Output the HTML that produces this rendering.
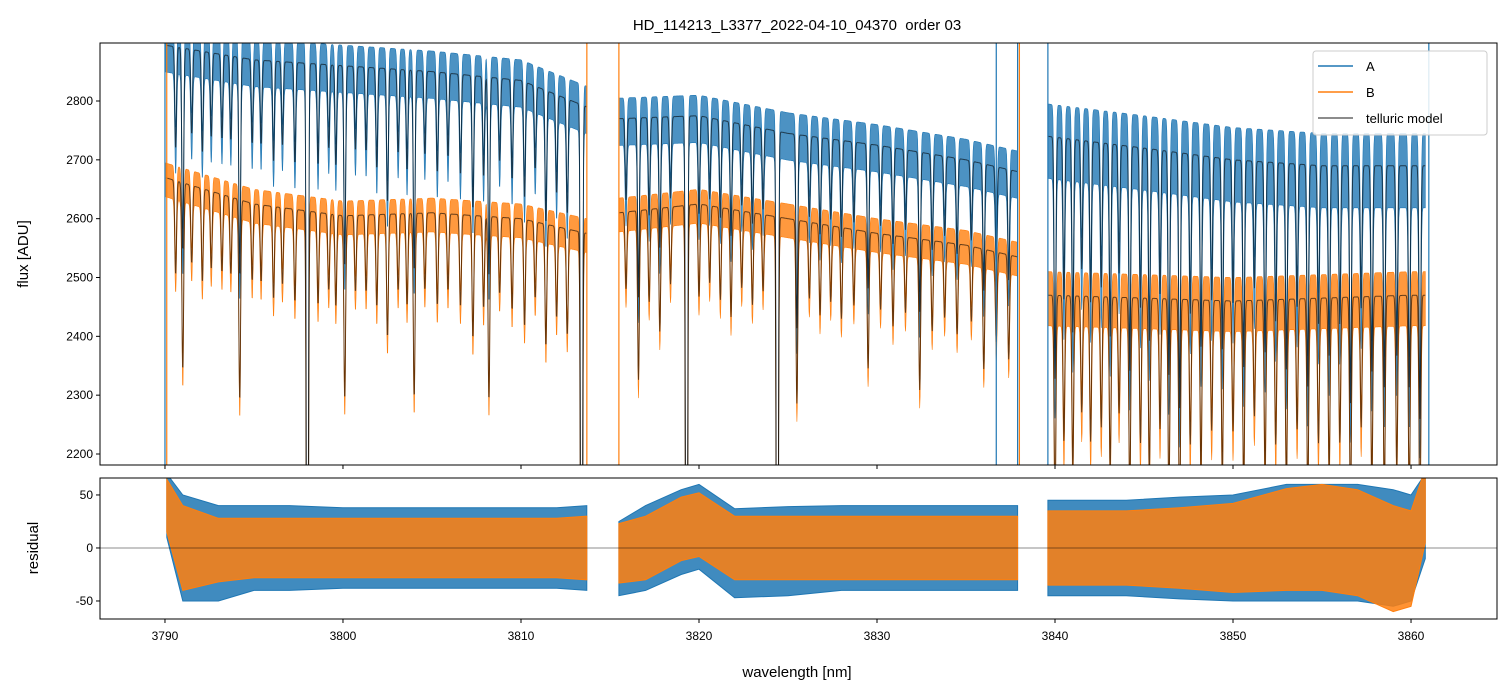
<!DOCTYPE html>
<html><head><meta charset="utf-8">
<style>
html,body{margin:0;padding:0;background:#fff;width:1510px;height:696px;overflow:hidden;}
svg{display:block;font-family:"Liberation Sans","DejaVu Sans",sans-serif;}
</style></head>
<body>
<svg id="chart" width="1510" height="696" viewBox="0 0 1510 696" xmlns="http://www.w3.org/2000/svg">
<defs>
<clipPath id="clipTop"><rect x="100" y="43" width="1397" height="422"/></clipPath>
<clipPath id="clipBot"><rect x="100" y="478" width="1397" height="141"/></clipPath>
</defs>
<rect width="1510" height="696" fill="#fff"/>
<text x="797" y="30" text-anchor="middle" font-size="15" style="white-space:pre">HD_114213_L3377_2022-04-10_04370  order 03</text>
<g id="topMarks" clip-path="url(#clipTop)"></g>
<g id="botMarks" clip-path="url(#clipBot)"></g>
<rect x="100" y="43" width="1397" height="422" fill="none" stroke="#000" stroke-width="1"/>
<rect x="100" y="478" width="1397" height="141" fill="none" stroke="#000" stroke-width="1"/>
<g id="axes"></g>
<text x="28" y="254" transform="rotate(-90 28 254)" text-anchor="middle" font-size="15">flux [ADU]</text>
<text x="38" y="548" transform="rotate(-90 38 548)" text-anchor="middle" font-size="15">residual</text>
<text x="797" y="677" text-anchor="middle" font-size="15">wavelength [nm]</text>
<g>
<rect x="1313" y="51" width="174" height="84" rx="3" fill="#fff" fill-opacity="0.85" stroke="#ccc"/>
<line x1="1318" y1="66" x2="1353" y2="66" stroke="#1f77b4" stroke-width="1.5"/>
<text x="1366" y="71" font-size="13">A</text>
<line x1="1318" y1="92" x2="1353" y2="92" stroke="#ff7f0e" stroke-width="1.5"/>
<text x="1366" y="97" font-size="13">B</text>
<line x1="1318" y1="118" x2="1353" y2="118" stroke="#666" stroke-width="1.5"/>
<text x="1366" y="123" font-size="13">telluric model</text>
</g>
</svg>
<script>
const segments = [[3790.05,3813.7],[3815.5,3837.9],[3839.6,3860.8]];
const contWl = [3790,3795,3800,3805,3810,3813.7,3815.5,3820,3825,3830,3835,3837.9,3839.6,3845,3850,3855,3860,3861];
const contA  = [2895,2870,2860,2850,2835,2790,2770,2775,2745,2725,2700,2680,2740,2720,2700,2690,2690,2690];
const contB  = [2670,2625,2605,2610,2600,2575,2610,2625,2600,2575,2555,2535,2470,2465,2460,2465,2470,2470];
const noiseA = [35,35,35,35,35,35,35,35,35,35,35,35,55,55,55,55,55,55];
const noiseB = [25,25,25,25,25,25,25,25,25,25,25,25,40,40,40,40,40,40];
const lineWl = [3790.6,3791.0,3791.5,3792.1,3792.6,3793.2,3793.7,3794.2,3794.9,3795.4,3796.1,3796.6,3797.3,3798.0,3798.6,3799.2,3799.6,3800.1,3800.7,3801.3,3801.9,3802.5,3803.1,3803.6,3804.0,3804.6,3805.3,3805.9,3806.6,3807.3,3807.9,3808.2,3808.8,3809.5,3810.2,3810.8,3811.4,3812.0,3812.6,3813.4,
3815.9,3816.6,3817.2,3817.8,3818.4,3819.3,3820.0,3820.6,3821.2,3821.8,3822.4,3823.0,3823.6,3824.4,3825.5,3826.2,3826.8,3827.4,3828.0,3828.7,3829.5,3830.2,3830.9,3831.6,3832.4,3833.1,3833.8,3834.5,3835.3,3836.0,3836.7,3837.4,
3840.0,3840.5,3841.0,3841.5,3842.0,3842.6,3843.1,3843.6,3844.2,3844.8,3845.3,3845.9,3846.4,3847.0,3847.6,3848.2,3848.8,3849.4,3850.0,3850.6,3851.2,3851.8,3852.4,3853.0,3853.6,3854.2,3854.8,3855.4,3856.0,3856.6,3857.2,3857.8,3858.5,3859.2,3859.9,3860.5];
const lineDepth = [.06,.12,.05,.06,.05,.05,.05,.13,.05,.05,.06,.05,.06,.5,.06,.05,.06,.12,.05,.05,.06,.08,.05,.06,.12,.05,.06,.05,.06,.08,.06,.12,.05,.06,.07,.05,.08,.06,.07,.5,
.05,.11,.06,.08,.05,.5,.06,.05,.06,.07,.05,.06,.05,.5,.12,.05,.06,.05,.06,.05,.09,.05,.06,.05,.1,.06,.05,.06,.05,.08,.06,.07,
.15,.1,.12,.08,.1,.09,.12,.08,.14,.1,.12,.09,.14,.16,.1,.12,.09,.12,.09,.13,.08,.12,.1,.13,.09,.14,.1,.12,.1,.15,.09,.13,.14,.12,.14,.16];
const residWl    = [3790.1,3791,3793,3795,3797,3800,3803,3806,3809,3812,3813.7, 3815.5,3817,3819,3820,3822,3825,3828,3831,3834,3837.9, 3839.6,3841,3844,3847,3850,3853,3855,3857,3859,3860,3860.8];
const residMeanA = [40,0,-5,0,0,0,0,0,0,0,0, -10,0,15,20,-5,-3,0,0,0,0, 0,0,0,0,0,5,5,5,0,0,30];
const residAmpA  = [30,50,45,40,40,38,38,38,38,38,40, 35,40,40,40,42,42,40,40,40,40, 45,45,45,48,50,55,55,55,55,50,40];
const residMeanB = [40,0,-2,0,0,0,0,0,0,0,0, -5,0,18,22,0,0,0,0,0,0, 0,0,0,0,0,8,10,5,-10,-10,40];
const residAmpB  = [25,40,30,28,28,28,28,28,28,28,30, 28,30,30,30,30,30,30,30,30,30, 35,35,35,38,42,48,50,50,50,45,35];
const spikeA = [3790.0,3836.7,3837.9,3839.6,3861.0];
const spikeB = [3790.1,3813.7,3815.5,3838.0];
const xTicks = [3790,3800,3810,3820,3830,3840,3850,3860];
const yTicksTop = [2200,2300,2400,2500,2600,2700,2800];
const yTicksBot = [-50,0,50];

const X0=100,X1=1497,WMIN=3786.35,WMAX=3864.83;
const xs = w => X0+(w-WMIN)/(WMAX-WMIN)*(X1-X0);
const ysT = f => 465-(f-2181.3)/(2898.6-2181.3)*422;
const ysB = r => 619-(r+67)/(66+67)*141;
const NS="http://www.w3.org/2000/svg";
function mk(tag,parent,attrs){const e=document.createElementNS(NS,tag);for(const k in attrs)e.setAttribute(k,attrs[k]);parent.appendChild(e);return e;}
function interp(xa,ya,x){if(x<=xa[0])return ya[0];for(let i=1;i<xa.length;i++){if(x<=xa[i]){const t=(x-xa[i-1])/(xa[i]-xa[i-1]);return ya[i-1]+t*(ya[i]-ya[i-1]);}}return ya[ya.length-1];}
function absorb(w){let f=1;for(let i=0;i<lineWl.length;i++){const d=(w-lineWl[i])/0.07;if(Math.abs(d)<5)f*=1-lineDepth[i]*Math.exp(-d*d);}return f;}

const topG=document.getElementById('topMarks');
const botG=document.getElementById('botMarks');
const series=[{c:contA,n:noiseA,col:'#1f77b4',k:'a'},{c:contB,n:noiseB,col:'#ff7f0e',k:'b'}];
series.forEach(s=>{
  segments.forEach((seg,si)=>{
    const up=[],dn=[],mod=[];
    for(let w=seg[0];w<=seg[1];w+=0.02){
      const m=interp(contWl,s.c,w)*absorb(w);
      const nz=interp(contWl,s.n,w)*(0.6+0.4*absorb(w));
      mod.push([xs(w),ysT(m)]);up.push([xs(w),ysT(m+nz)]);dn.push([xs(w),ysT(m-nz*1.3)]);
    }
    const pts=up.concat(dn.reverse()).map(p=>p[0].toFixed(1)+','+p[1].toFixed(1)).join(' ');
    const band=mk('polygon',topG,{points:pts,fill:s.col,'fill-opacity':0.8,stroke:s.col,'stroke-width':0.6});
    
    
    s['mod'+si]=mod;
  });
});
series.forEach(s=>{
  segments.forEach((seg,si)=>{
    const pl=mk('polyline',topG,{points:s['mod'+si].map(p=>p[0].toFixed(1)+','+p[1].toFixed(1)).join(' '),fill:'none',stroke:'#000','stroke-opacity':0.6,'stroke-width':1});
    
    
  });
});
spikeA.forEach(w=>{const l=mk('line',topG,{x1:xs(w),x2:xs(w),y1:43,y2:465,stroke:'#1f77b4','stroke-width':1.2});
  
  });
spikeB.forEach(w=>{const l=mk('line',topG,{x1:xs(w),x2:xs(w),y1:43,y2:465,stroke:'#ff7f0e','stroke-width':1.2});
  
  });

[[residMeanA,residAmpA,'#1f77b4','a',0.85],[residMeanB,residAmpB,'#ff7f0e','b',0.85]].forEach(r=>{
  segments.forEach((seg,si)=>{
    const up=[],dn=[];
    for(let j=0;j<residWl.length;j++){
      if(residWl[j]>=seg[0]-0.1&&residWl[j]<=seg[1]+0.1){
        up.push([xs(residWl[j]),ysB(r[0][j]+r[1][j])]);
        dn.push([xs(residWl[j]),ysB(r[0][j]-r[1][j])]);
      }
    }
    const pts=up.concat(dn.reverse()).map(p=>p[0].toFixed(1)+','+p[1].toFixed(1)).join(' ');
    const pg=mk('polygon',botG,{points:pts,fill:r[2],'fill-opacity':r[4],stroke:r[2],'stroke-width':1});
    
    
  });
});
const zl=mk('line',botG,{x1:100,x2:1497,y1:ysB(0),y2:ysB(0),stroke:'#000','stroke-opacity':0.6,'stroke-width':0.8});



const ax=document.getElementById('axes');
xTicks.forEach(t=>{
  const x=xs(t);
  const a=mk('line',ax,{x1:x,x2:x,y1:465,y2:469,stroke:'#000'});
  
  
  const b=mk('line',ax,{x1:x,x2:x,y1:619,y2:623,stroke:'#000'});
  
  
  const tx=mk('text',ax,{x:x,y:640,'text-anchor':'middle','font-size':12});
  tx.textContent=t;
  
  
});
yTicksTop.forEach(t=>{
  const y=ysT(t);
  const a=mk('line',ax,{x1:96,x2:100,y1:y,y2:y,stroke:'#000'});
  
  
  const tx=mk('text',ax,{x:93,y:y+4,'text-anchor':'end','font-size':12});
  tx.textContent=t;
  
  
});
yTicksBot.forEach(t=>{
  const y=ysB(t);
  const a=mk('line',ax,{x1:96,x2:100,y1:y,y2:y,stroke:'#000'});
  
  
  const tx=mk('text',ax,{x:93,y:y+4,'text-anchor':'end','font-size':12});
  tx.textContent=t;
  
  
});
</script>
</body></html>
